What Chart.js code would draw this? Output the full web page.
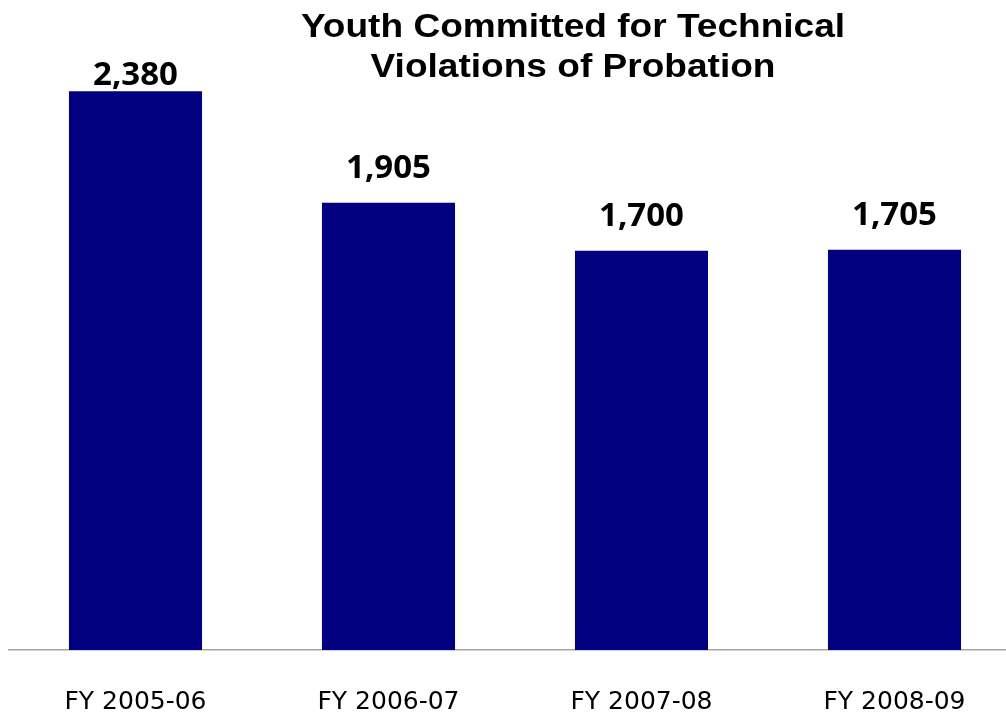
<!DOCTYPE html>
<html>
<head>
<meta charset="utf-8">
<script src="https://cdn.jsdelivr.net/npm/chart.js@4.4.1/dist/chart.umd.min.js"></script>
<style>
html, body { margin: 0; padding: 0; background: #ffffff; overflow: hidden; }
#wrap { position: relative; width: 1030px; height: 714px; }
</style>
</head>
<body>
<div id="wrap"><canvas id="c" width="1030" height="714"></canvas></div>
<script>
const categories = ["FY 2005-06", "FY 2006-07", "FY 2007-08", "FY 2008-09"];
const committedValues = [2380, 1905, 1700, 1705];
const titleLines = ["Youth Committed for Technical", "Violations of Probation"];

const titlePlugin = {
  id: 'customTitle',
  afterDraw(chart) {
    const ctx = chart.ctx;
    ctx.save();
    ctx.fillStyle = '#000000';
    ctx.font = 'bold 34px "Liberation Sans", Arial, sans-serif';
    ctx.textAlign = 'center';
    ctx.textBaseline = 'alphabetic';
    ctx.translate(573, 0);
    ctx.scale(1.09, 1);
    ctx.fillText(titleLines[0], 0, 37);
    ctx.fillText(titleLines[1], 0, 77);
    ctx.restore();
  }
};

const valueLabels = {
  id: 'valueLabels',
  afterDatasetsDraw(chart) {
    const ctx = chart.ctx;
    const meta = chart.getDatasetMeta(0);
    ctx.save();
    ctx.fillStyle = '#000000';
    ctx.font = 'bold 33px "Open Sans", sans-serif';
    ctx.textAlign = 'center';
    ctx.textBaseline = 'alphabetic';
    meta.data.forEach((bar, i) => {
      const v = chart.data.datasets[0].data[i];
      const y = Math.max(bar.y - 25, chart.chartArea.top + 22);
      ctx.fillText(v.toLocaleString('en-US'), bar.x, y);
    });
    ctx.restore();
  }
};

new Chart(document.getElementById('c'), {
  type: 'bar',
  data: {
    labels: categories,
    datasets: [{
      data: committedValues,
      backgroundColor: '#000080',
      borderWidth: 0,
      barPercentage: 0.526,
      categoryPercentage: 1.0
    }]
  },
  options: {
    responsive: false,
    animation: false,
    layout: { padding: { top: 63, left: 9, right: 9, bottom: 0 } },
    plugins: { legend: { display: false }, title: { display: false }, tooltip: { enabled: false } },
    scales: {
      x: {
        grid: { display: false, drawTicks: false },
        border: { display: true, color: '#a6a6a6', width: 1.5 },
        ticks: { color: '#000000', font: { family: '"DejaVu Sans", sans-serif', size: 25 }, padding: 37, maxRotation: 0 },
        afterFit(scale) { scale.height = 64; }
      },
      y: {
        display: false,
        min: 0,
        max: 2500
      }
    }
  },
  plugins: [titlePlugin, valueLabels]
});
</script>
</body>
</html>
